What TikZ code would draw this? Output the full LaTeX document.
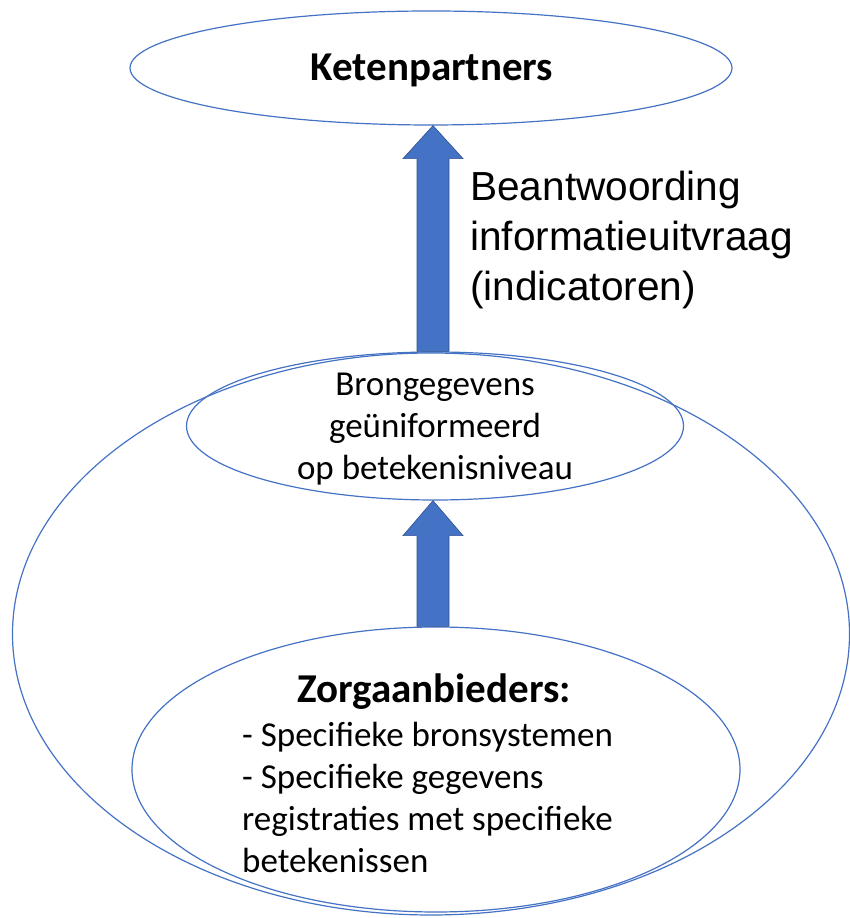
\documentclass[tikz,border=0pt]{standalone}
\usepackage{fontspec}
\setmainfont{Carlito}
\newfontfamily\arialfont{Liberation Sans}
\usetikzlibrary{shapes.geometric,calc}
\definecolor{edgeblue}{HTML}{4472C4}
\definecolor{fillblue}{HTML}{4472C4}
\definecolor{darkblue}{HTML}{2F528F}
\tikzset{
  ell/.style={ellipse, draw=edgeblue, line width=1.2pt, inner sep=0pt, fill=none},
  blockarrow/.style={fill=fillblue, draw=darkblue, line width=0.6pt},
  txt/.style={font=\fontsize{35}{42}\selectfont, inner sep=0pt, text=black},
  titletxt/.style={font=\fontsize{41}{48}\selectfont\bfseries, inner sep=0pt, text=black}
}
\begin{document}
\begin{tikzpicture}[x=1pt,y=1pt]
\useasboundingbox (0,0) rectangle (850,918);
\node[ell, minimum width=837pt, minimum height=562pt] (big) at (431,284) {};
\node[ell, minimum width=602pt, minimum height=114pt] (top) at (431,850) {};
\node[ell, minimum width=497pt, minimum height=148pt] (mid) at (435,492) {};
\node[ell, minimum width=608pt, minimum height=285pt] (bot) at (436,148.5) {};
% texts
\node[titletxt] (toptxt) at (432,848) {Ketenpartners};
\node[txt, align=center] (midtxt) at (435,489) {Brongegevens\\ geüniformeerd\\ op betekenisniveau};
\node[titletxt] (bottitle) at (434,226) {Zorgaanbieders:};
\node[txt, align=left, anchor=west, font=\fontsize{35}{41.7}\selectfont] (botlist) at (242,120.5) {- Specifieke bronsystemen\\ - Specifieke gegevens\\ registraties met specifieke\\ betekenissen};
\node[inner sep=0pt, anchor=west, align=left, font=\arialfont\fontsize{40.6}{50}\selectfont] (label) at (470,678) {Beantwoording\\ informatieuitvraag\\ (indicatoren)};
% block arrows
\filldraw[blockarrow] let \p1=(mid.north), \p2=(top.south) in
  (433pt-16pt,\y1) -- (433pt-16pt,\y2-33pt) -- (433pt-30pt,\y2-33pt) -- (433pt,\y2)
  -- (433pt+30pt,\y2-33pt) -- (433pt+16pt,\y2-33pt) -- (433pt+16pt,\y1) -- cycle;
\filldraw[blockarrow] let \p1=(bot.north), \p2=(mid.south) in
  (433pt-16pt,\y1) -- (433pt-16pt,\y2-35pt) -- (433pt-30pt,\y2-35pt) -- (433pt,\y2)
  -- (433pt+30pt,\y2-35pt) -- (433pt+16pt,\y2-35pt) -- (433pt+16pt,\y1) -- cycle;
\end{tikzpicture}
\end{document}
